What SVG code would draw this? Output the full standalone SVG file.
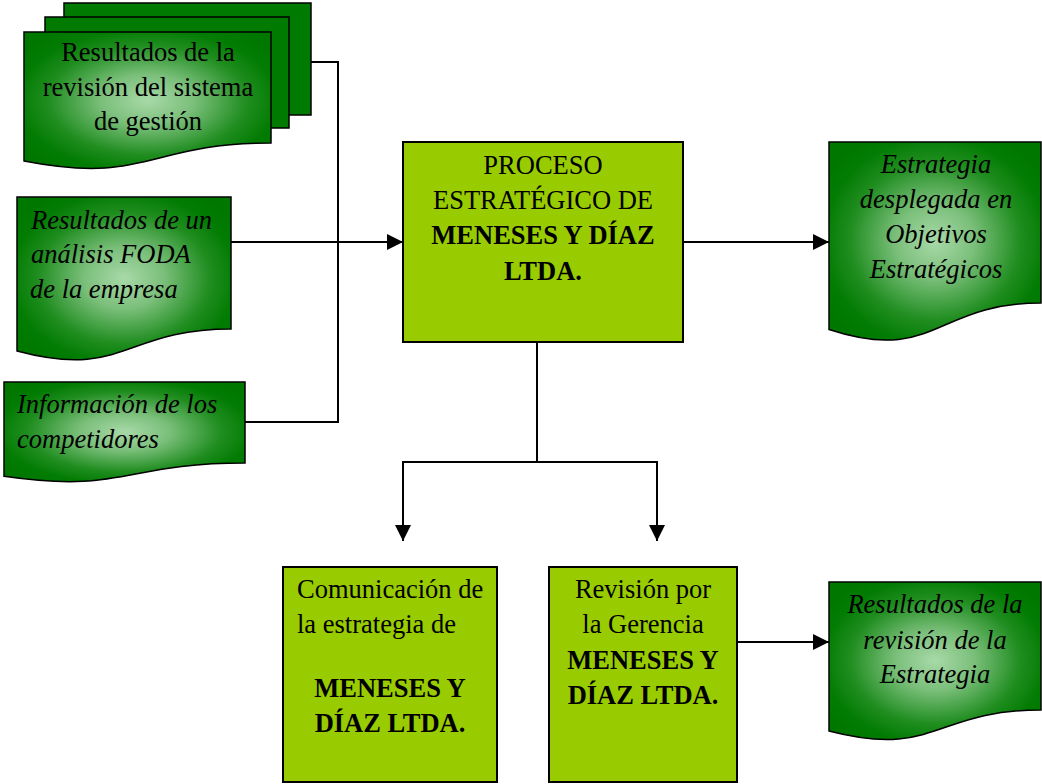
<svg xmlns="http://www.w3.org/2000/svg" width="1042" height="784" viewBox="0 0 1042 784">
<style>
.doc{stroke:#000;stroke-width:1.5;fill:url(#g)}
.flat{stroke:#000;stroke-width:1.5;fill:#007a00}
.box{stroke:#000;stroke-width:2;fill:#99cc00}
.t{font-family:"Liberation Serif","Times New Roman",serif;font-size:26.5px;fill:#000}
.i{font-style:italic}
.b{font-weight:bold}
.c{text-anchor:middle}
.ln{stroke:#000;stroke-width:2;fill:none}
.ar{marker-end:url(#ah)}
</style>
<defs>
<radialGradient id="g" cx="0.5" cy="0.5" r="0.62">
<stop offset="0" stop-color="#a8d9a8"/>
<stop offset="0.3" stop-color="#7bbf7b"/>
<stop offset="0.65" stop-color="#1f8d1f"/>
<stop offset="0.85" stop-color="#037c03"/>
<stop offset="1" stop-color="#007800"/>
</radialGradient>
<marker id="ah" viewBox="0 0 16 16" refX="16" refY="8" markerWidth="16" markerHeight="16" markerUnits="userSpaceOnUse" orient="auto">
<path d="M0,0 L16,8 L0,16 Z" fill="#000"/>
</marker>
</defs>
<g id="connectors">
<polyline class="ln" points="311,62 338,62 338,422 245,422"/>
<line class="ln ar" x1="231" y1="242" x2="403" y2="242"/>
<line class="ln ar" x1="683" y1="242" x2="829" y2="242"/>
<line class="ln" x1="537" y1="342" x2="537" y2="462"/>
<polyline class="ln ar" points="537,462 403,462 403,541"/>
<polyline class="ln ar" points="537,462 657,462 657,541"/>
<line class="ln ar" x1="737" y1="642" x2="829" y2="642"/>
</g>
<g id="n-resultados-sistema">
<rect class="flat" x="64" y="3" width="247" height="112"/>
<rect class="flat" x="45" y="17" width="244" height="111"/>
<path class="doc" d="M24,32 H271 V143 C147.5,143 147.5,185 24,161 Z"/>
<text class="t c" x="148" y="61">Resultados de la</text>
<text class="t c" x="148" y="95.5">revisión del sistema</text>
<text class="t c" x="148" y="130">de gestión</text>
</g>
<g id="n-foda">
<path class="doc" d="M17,197 H231 V329 C124,329 124,379.7 17,351 Z"/>
<text class="t i" x="31" y="229">Resultados de un</text>
<text class="t i" x="31" y="263">análisis FODA</text>
<text class="t i" x="30" y="298">de la empresa</text>
</g>
<g id="n-competidores">
<path class="doc" d="M4,382 H245 V463 C124.5,463 124.5,493.8 4,476.3 Z"/>
<text class="t i" x="17" y="413">Información de los</text>
<text class="t i" x="17" y="448">competidores</text>
</g>
<g id="n-proceso">
<rect class="box" x="403" y="142" width="280" height="200"/>
<text class="t c" x="543" y="174">PROCESO</text>
<text class="t c" x="543" y="209">ESTRATÉGICO DE</text>
<text class="t c b" x="543" y="244">MENESES Y DÍAZ</text>
<text class="t c b" x="543" y="280">LTDA.</text>
</g>
<g id="n-estrategia">
<path class="doc" d="M829,142 H1041 V303 C935,303 935,364.2 829,329.5 Z"/>
<text class="t i c" x="936" y="173">Estrategia</text>
<text class="t i c" x="936" y="208">desplegada en</text>
<text class="t i c" x="936" y="243">Objetivos</text>
<text class="t i c" x="936" y="278">Estratégicos</text>
</g>
<g id="n-comunicacion">
<rect class="box" x="283" y="567" width="214" height="215"/>
<text class="t" x="297" y="598">Comunicación de</text>
<text class="t" x="297" y="633">la estrategia de</text>
<text class="t c b" x="390" y="697">MENESES Y</text>
<text class="t c b" x="390" y="732">DÍAZ LTDA.</text>
</g>
<g id="n-revision">
<rect class="box" x="549" y="567" width="188" height="215"/>
<text class="t c" x="643" y="598">Revisión por</text>
<text class="t c" x="643" y="633">la Gerencia</text>
<text class="t c b" x="643" y="669">MENESES Y</text>
<text class="t c b" x="643" y="704">DÍAZ LTDA.</text>
</g>
<g id="n-resultados-estrategia">
<path class="doc" d="M829,582 H1041 V710 C935,710 935,758.7 829,731 Z"/>
<text class="t i c" x="935" y="613">Resultados de la</text>
<text class="t i c" x="935" y="649">revisión de la</text>
<text class="t i c" x="935" y="683">Estrategia</text>
</g>
</svg>
